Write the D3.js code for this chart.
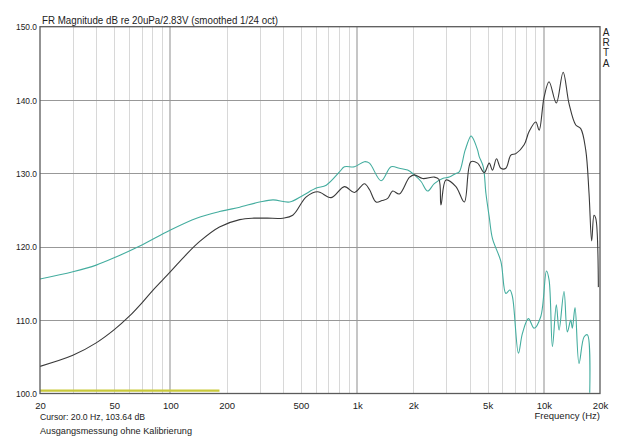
<!DOCTYPE html>
<html>
<head>
<meta charset="utf-8">
<script src="https://cdn.jsdelivr.net/npm/d3@7"></script>
<style>
  html, body { margin: 0; padding: 0; background: #ffffff; }
  svg { display: block; font-family: Arial, "Liberation Sans", sans-serif; }
</style>
</head>
<body>
<svg id="chart" width="640" height="438"></svg>
<script>
// ---- data ----
const xTickValues = [20, 50, 100, 200, 500, 1000, 2000, 5000, 10000, 20000];
const xTickLabels = ["20", "50", "100", "200", "500", "1k", "2k", "5k", "10k", "20k"];
const yTickValues = [100, 110, 120, 130, 140, 150];

const blackFreq = [20, 30, 40, 50, 60, 70, 80, 100, 120, 143, 183, 235, 280, 330, 400, 452, 534, 615, 726, 855, 967, 1094, 1164, 1263, 1360, 1458, 1550, 1684, 1904, 2024, 2244, 2590, 2740, 2812, 2992, 3382, 3750, 4070, 4416, 4795, 5098, 5310, 5580, 5888, 6262, 6662, 7084, 7846, 8340, 9060, 9440, 10036, 10670, 11670, 12690, 13650, 14830, 15770, 16770, 17470, 18050, 18580, 18970, 19600];
const blackDb = [103.7, 105.2, 106.9, 108.7, 110.5, 112.3, 114.0, 116.6, 118.8, 120.7, 122.7, 123.7, 123.9, 123.9, 123.9, 124.3, 126.8, 127.5, 126.7, 128.2, 127.4, 128.6, 127.8, 126.1, 126.3, 126.6, 127.6, 127.2, 129.45, 129.8, 129.3, 129.5, 129.2, 125.7, 129.1, 128.2, 126.1, 131.6, 131.4, 130.1, 131.4, 130.45, 132.0, 130.7, 130.7, 132.5, 132.7, 133.9, 135.7, 137.0, 135.9, 140.4, 142.5, 139.6, 143.8, 139.5, 136.6, 136.1, 133.2, 127.3, 120.8, 124.3, 123.9, 114.5];

const tealFreq = [20, 30, 40, 51, 68.5, 100, 138, 183, 208, 235, 300, 354, 435, 512, 604, 683, 804, 855, 967, 1094, 1164, 1344, 1520, 1684, 1864, 2024, 2200, 2386, 2590, 2870, 3116, 3382, 3524, 3794, 4070, 4150, 4416, 4508, 4740, 4896, 5098, 5310, 5888, 6262, 6578, 6792, 7312, 7682, 8274, 8872, 9636, 10330, 10670, 11120, 11670, 12070, 12830, 13370, 13940, 14220, 14700, 15440, 16420, 17110, 17620];
const tealDb = [115.6, 116.6, 117.5, 118.6, 120.1, 122.3, 123.9, 124.8, 125.1, 125.4, 126.1, 126.4, 126.1, 127.0, 128.0, 128.4, 130.2, 130.9, 130.9, 131.6, 131.4, 129.0, 130.9, 130.7, 130.45, 129.8, 128.9, 127.6, 128.6, 129.3, 129.5, 130.0, 130.2, 133.2, 135.1, 134.9, 133.2, 132.3, 130.9, 127.3, 124.1, 121.1, 118.0, 113.65, 114.1, 113.2, 105.5, 108.2, 110.2, 108.9, 110.5, 116.7, 115.5, 106.4, 112.1, 108.65, 113.9, 108.4, 110.0, 108.9, 111.7, 104.1, 107.7, 108.0, 100.1];

const markerFreq = [20, 183];
const markerDb = [100.4, 100.4];

const titleText = "FR Magnitude dB re 20uPa/2.83V (smoothed 1/24 oct)";
const xAxisTitle = "Frequency (Hz)";
const cursorText = "Cursor: 20.0 Hz, 103.64 dB";
const noteText = "Ausgangsmessung ohne Kalibrierung";
const sideLetters = ["A", "R", "T", "A"];

// ---- layout ----
const L = 40, R = 600, T = 26.7, B = 393.5;
const svg = d3.select("#chart");

const x = d3.scaleLog().domain([20, 20000]).range([L, R]);
const y = d3.scaleLinear().domain([100, 150]).range([B, T]);

svg.append("defs").append("clipPath").attr("id", "plotclip")
  .append("rect").attr("x", L).attr("y", T).attr("width", R - L).attr("height", B - T);

// vertical grid
const decades = [100, 1000, 10000];
const gridF = x.ticks().filter(f => f > 20 && f < 20000);
svg.append("g").selectAll("line").data(gridF).join("line")
  .attr("x1", d => decades.includes(d) ? Math.round(x(d)) : Math.round(x(d)) + 0.5)
  .attr("x2", d => decades.includes(d) ? Math.round(x(d)) : Math.round(x(d)) + 0.5)
  .attr("y1", T).attr("y2", B)
  .attr("stroke", d => decades.includes(d) ? "#c6c6c6" : "#d8d8d8")
  .attr("stroke-width", d => decades.includes(d) ? 2 : 1);

// horizontal grid
svg.append("g").selectAll("line").data(yTickValues.filter(v => v > 100 && v < 150)).join("line")
  .attr("x1", L).attr("x2", R)
  .attr("y1", d => Math.round(y(d)) + 0.5).attr("y2", d => Math.round(y(d)) + 0.5)
  .attr("stroke", "#989898").attr("stroke-width", 1);

// curves
const line = d3.line().x(d => x(d[0])).y(d => y(d[1])).curve(d3.curveCatmullRom.alpha(0.5));
const plot = svg.append("g").attr("clip-path", "url(#plotclip)");

plot.append("path").datum(markerFreq.map((f, i) => [f, markerDb[i]]))
  .attr("d", d3.line().x(d => x(d[0])).y(d => y(d[1])))
  .attr("fill", "none").attr("stroke", "#c9c93a").attr("stroke-width", 2.2);

plot.append("path").datum(tealFreq.map((f, i) => [f, tealDb[i]]))
  .attr("d", line).attr("fill", "none").attr("stroke", "#44ad9f").attr("stroke-width", 1.1);

plot.append("path").datum(blackFreq.map((f, i) => [f, blackDb[i]]))
  .attr("d", line).attr("fill", "none").attr("stroke", "#3a3a3a").attr("stroke-width", 1.1);

// frame
svg.append("rect").attr("x", L).attr("y", T).attr("width", R - L).attr("height", B - T)
  .attr("fill", "none").attr("stroke", "#5a5a5a").attr("stroke-width", 1.3);

// axes
const xAxis = d3.axisBottom(x).tickValues(xTickValues)
  .tickFormat((d, i) => xTickLabels[i]).tickSize(0).tickPadding(9);
const gx = svg.append("g").attr("transform", `translate(0,${B})`).call(xAxis);
gx.select(".domain").remove();
gx.selectAll("text").attr("font-size", 9.5).attr("fill", "#222")
  .attr("font-family", "Arial, 'Liberation Sans', sans-serif");

const yAxis = d3.axisLeft(y).tickValues(yTickValues).tickFormat(d3.format(".1f")).tickSize(0).tickPadding(3);
const gy = svg.append("g").attr("transform", `translate(${L},0)`).call(yAxis);
gy.select(".domain").remove();
gy.selectAll("text").attr("font-size", 9.5).attr("fill", "#222")
  .attr("font-family", "Arial, 'Liberation Sans', sans-serif")
  .attr("textLength", 21).attr("lengthAdjust", "spacingAndGlyphs");

// texts
svg.append("text").attr("x", 42).attr("y", 24).attr("font-size", 10.5).attr("fill", "#222")
  .attr("textLength", 236).attr("lengthAdjust", "spacingAndGlyphs").text(titleText);

svg.append("text").attr("x", 600).attr("y", 419).attr("text-anchor", "end")
  .attr("font-size", 9.5).attr("fill", "#222").text(xAxisTitle);

svg.append("text").attr("x", 40).attr("y", 419.5).attr("font-size", 9.5).attr("fill", "#222")
  .attr("textLength", 105).attr("lengthAdjust", "spacingAndGlyphs").text(cursorText);

svg.append("text").attr("x", 40).attr("y", 434).attr("font-size", 9.5).attr("fill", "#222")
  .attr("textLength", 152).attr("lengthAdjust", "spacingAndGlyphs").text(noteText);

svg.append("g").selectAll("text").data(sideLetters).join("text")
  .attr("x", 606).attr("y", (d, i) => 36 + i * 10.2).attr("text-anchor", "middle")
  .attr("font-size", 10).attr("fill", "#222").text(d => d);
</script>
</body>
</html>
